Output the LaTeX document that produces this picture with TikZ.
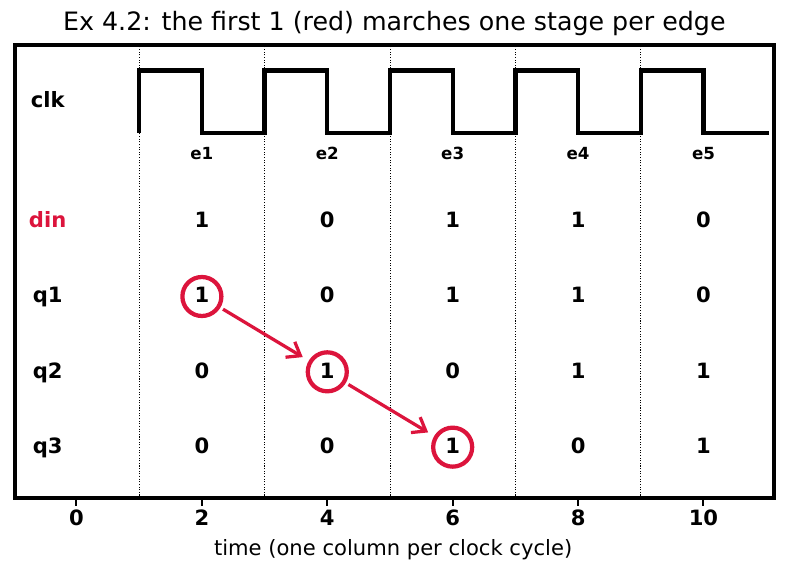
\documentclass[tikz,border=0pt]{standalone}
\usepackage{fontspec}
\setmainfont{DejaVu Sans}
\usepackage{xcolor}
\usetikzlibrary{arrows.meta}
\usetikzlibrary{math}
\definecolor{mycrimson}{RGB}{220,20,60}

\begin{document}
\begin{tikzpicture}[x=1.254cm, y=1.5066cm,
  lbl/.style={font=\bfseries\fontsize{12}{14}\selectfont, text height=0.73em, text depth=0pt, inner sep=0pt},
  val/.style={font=\bfseries\fontsize{12}{14}\selectfont, text height=0.73em, text depth=0pt, inner sep=0pt},
  edgelbl/.style={font=\bfseries\fontsize{9.5}{11}\selectfont, text height=0.73em, text depth=0pt, inner sep=0pt},
  hit/.style={circle, draw=mycrimson, line width=0.085cm, minimum size=0.78cm},
  march/.style={-{Straight Barb[length=0.24cm,width=0.36cm]}, draw=mycrimson, line width=0.065cm, shorten <=0.06cm, shorten >=0.14cm},
  gridline/.style={line width=0.45pt, dash pattern=on 0.6pt off 0.9pt},
  tickmark/.style={line width=0.04cm}
]
\tikzmath{
\xL=-0.98;
\xR=11.12;
\yB=-0.677;
\yT=5.338;
\lo=4.17;
\hi=5.0;
}
\useasboundingbox (-1.220,-1.673) rectangle (11.332,5.936);

%The grid:
\draw[gridline] (1,\yB) -- (1,\yT);
\draw[gridline] (3,\yB) -- (3,\yT);
\draw[gridline] (5,\yB) -- (5,\yT);
\draw[gridline] (7,\yB) -- (7,\yT);
\draw[gridline] (9,\yB) -- (9,\yT);
\draw[line width=0.085cm] (\xL,\yB) rectangle (\xR,\yT);

%The clock:
\draw[line width=0.085cm] (1,\lo) -- (1,\hi) -- (2,\hi) -- (2,\lo) -- (3,\lo) -- (3,\hi) -- (4,\hi) -- (4,\lo) -- (5,\lo) -- (5,\hi) -- (6,\hi) -- (6,\lo) -- (7,\lo) -- (7,\hi) -- (8,\hi) -- (8,\lo) -- (9,\lo) -- (9,\hi) -- (10,\hi) -- (10,\lo) -- (11.05,\lo);
\node[edgelbl] (e1) at (2,3.903) {e1};
\node[edgelbl] (e2) at (4,3.903) {e2};
\node[edgelbl] (e3) at (6,3.903) {e3};
\node[edgelbl] (e4) at (8,3.903) {e4};
\node[edgelbl] (e5) at (10,3.903) {e5};

%Row labels:
\node[lbl] (clk) at (-0.46,4.6) {clk};
\node[lbl, text=mycrimson] (din) at (-0.46,3) {din};
\node[lbl] (q1) at (-0.46,2) {q1};
\node[lbl] (q2) at (-0.46,1) {q2};
\node[lbl] (q3) at (-0.46,0) {q3};

%Values:
\node[val] (din1) at (2,3) {1};
\node[val] (din2) at (4,3) {0};
\node[val] (din3) at (6,3) {1};
\node[val] (din4) at (8,3) {1};
\node[val] (din5) at (10,3) {0};
\node[val, hit] (q1c1) at (2,2) {1};
\node[val] (q1c2) at (4,2) {0};
\node[val] (q1c3) at (6,2) {1};
\node[val] (q1c4) at (8,2) {1};
\node[val] (q1c5) at (10,2) {0};
\node[val] (q2c1) at (2,1) {0};
\node[val, hit] (q2c2) at (4,1) {1};
\node[val] (q2c3) at (6,1) {0};
\node[val] (q2c4) at (8,1) {1};
\node[val] (q2c5) at (10,1) {1};
\node[val] (q3c1) at (2,0) {0};
\node[val] (q3c2) at (4,0) {0};
\node[val, hit] (q3c3) at (6,0) {1};
\node[val] (q3c4) at (8,0) {0};
\node[val] (q3c5) at (10,0) {1};
\draw[march] (q1c1) -- (q2c2);
\draw[march] (q2c2) -- (q3c3);

%The axis:
\draw[tickmark] (0,\yB) -- +(0,-0.11);
\draw[tickmark] (2,\yB) -- +(0,-0.11);
\draw[tickmark] (4,\yB) -- +(0,-0.11);
\draw[tickmark] (6,\yB) -- +(0,-0.11);
\draw[tickmark] (8,\yB) -- +(0,-0.11);
\draw[tickmark] (10,\yB) -- +(0,-0.11);
\node[val] (t0) at (0,-0.956) {0};
\node[val] (t2) at (2,-0.956) {2};
\node[val] (t4) at (4,-0.956) {4};
\node[val] (t6) at (6,-0.956) {6};
\node[val] (t8) at (8,-0.956) {8};
\node[val] (t10) at (10,-0.956) {10};
\node[font=\fontsize{12}{14}\selectfont, text height=0.73em, text depth=0pt, inner sep=0pt] (xlabel) at (5.05,-1.354) {time (one column per clock cycle)};
\node[font=\fontsize{14.4}{17}\selectfont, text height=0.73em, text depth=0pt, inner sep=0pt] (title) at (5.07,5.613) {Ex 4.2: the first 1 (red) marches one stage per edge};

\end{tikzpicture}
\end{document}
